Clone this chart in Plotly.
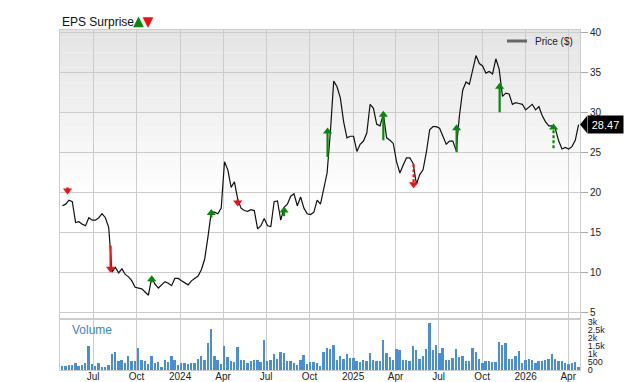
import plotly.graph_objects as go
import pandas as pd

# ---------------- data ----------------
week_start = "2023-04-27"
price = [
    18.3, 18.5, 19.0, 18.8, 16.2, 16.3, 16.0, 15.8, 16.8, 16.5,
    16.5, 16.8, 17.3, 16.8, 15.6, 10.0, 10.6, 9.9, 10.4, 9.7,
    9.4, 8.9, 8.1, 8.0, 7.9, 7.5, 7.1, 9.3, 8.5, 8.0,
    8.4, 8.8, 8.6, 8.3, 9.2, 9.2, 8.9, 8.6, 8.4, 8.9,
    9.2, 9.5, 10.3, 11.6, 14.4, 17.5, 17.5, 17.3, 18.0, 23.8,
    22.8, 20.6, 21.3, 19.1, 18.0, 17.7, 17.6, 17.8, 17.7, 15.4,
    15.8, 16.7, 15.8, 15.7, 18.8, 18.9, 16.5, 18.1, 18.5, 19.5,
    19.8, 18.3, 19.4, 18.0, 17.3, 17.2, 17.5, 19.0, 18.5, 20.4,
    22.4, 27.6, 33.9, 33.2, 31.8, 28.8, 26.8, 27.0, 27.0, 25.1,
    26.0, 26.4, 27.4, 31.0, 30.5, 28.5, 28.3, 29.8, 26.8, 26.5,
    26.1, 23.8, 22.4, 23.4, 24.3, 24.3, 23.6, 21.0, 22.2, 22.8,
    25.0, 27.8, 28.2, 28.2, 28.0, 27.0, 26.0, 26.4, 26.4, 25.2,
    29.6, 32.8, 33.8, 33.5, 35.5, 37.1, 36.1, 35.8, 34.9, 35.1,
    34.8, 36.7, 35.4, 32.0, 32.4, 32.3, 31.0, 31.2, 31.1, 31.0,
    30.3, 30.6, 31.0, 30.3, 30.7, 29.6, 28.8, 28.3, 28.3, 27.9,
    26.4, 25.4, 25.6, 25.4, 25.7, 26.5, 28.47,
]
volume = [
    250, 270, 340, 320, 440, 250, 290, 420, 1510, 360,
    250, 420, 210, 210, 320, 1000, 1130, 570, 630, 460,
    880, 530, 570, 1370, 630, 570, 380, 880, 420, 500,
    210, 630, 500, 880, 630, 320, 460, 460, 380, 420,
    460, 710, 880, 630, 1680, 2520, 880, 630, 380, 1510,
    800, 570, 500, 1450, 630, 630, 460, 590, 630, 630,
    500, 1850, 570, 630, 1000, 690, 1130, 1050, 530, 530,
    460, 290, 630, 950, 380, 480, 500, 420,
    270, 1090, 1390, 1320, 1530, 630, 860, 670, 970, 740,
    740, 590, 500, 630, 590, 1070, 650, 570, 590, 1890,
    1070, 800, 630, 1280, 1220, 630, 630, 590, 1470, 1220,
    710, 880, 1280, 2900, 1220, 1580, 1070, 1370, 630, 630,
    740, 1320, 800, 880, 590, 590, 1370, 1110, 670, 440,
    550, 550, 480, 480, 1740, 1580, 1700, 690, 670, 900,
    1160, 440, 650, 710, 630, 440, 530, 590, 650, 690,
    990, 690, 550, 550, 460, 380, 420, 480, 170,
]

eps_dates = ["2023-05-08", "2023-08-07", "2023-11-02", "2024-03-07", "2024-05-02",
             "2024-08-08", "2024-11-08", "2025-03-06", "2025-05-09", "2025-08-08",
             "2025-11-07", "2026-03-01"]
eps_from = [20.6, 13.3, 8.7, 16.8, 19.1, 17.0, 24.4, 26.5, 23.5, 25.0, 30.0, 25.5]
eps_to = [19.7, 9.9, 9.6, 17.9, 18.2, 18.2, 28.1, 30.2, 20.5, 28.5, 33.7, 28.6]
eps_beat = [False, False, True, True, False, True, True, True, False, True, True, True]
eps_dashed = [False, False, False, False, False, False, False, False, True, False, False, True]

tick_dates = ["2023-07-01", "2023-10-01", "2024-01-01", "2024-04-01", "2024-07-01",
              "2024-10-01", "2025-01-01", "2025-04-01", "2025-07-01", "2025-10-01",
              "2026-01-01", "2026-04-01"]
tick_text = ["Jul", "Oct", "2024", "Apr", "Jul", "Oct", "2025", "Apr", "Jul", "Oct",
             "2026", "Apr"]
price_ticks = [5, 10, 15, 20, 25, 30, 35, 40]
vol_ticks = [0, 500, 1000, 1500, 2000, 2500, 3000]
vol_tick_text = ["0", "500", "1k", "1.5k", "2k", "2.5k", "3k"]
last_label = "28.47"

# ---------------- figure ----------------
dates = pd.date_range(week_start, periods=len(price), freq="7D")
FONT = "Liberation Sans, Arial, sans-serif"
GREEN = "#0a870a"
RED = "#f01010"
GRID = "#cccccc"

W, H = 640, 382
ML, MR, MT, MB = 60, 60, 30, 12
PW = W - ML - MR
PH = H - MT - MB

def py(px):
    return (H - MB - px) / PH

def px_(x):
    return (x - ML) / PW

fig = go.Figure()

fig.add_trace(go.Scatter(x=dates, y=price, mode="lines",
                         line=dict(color="#111111", width=1.2),
                         xaxis="x", yaxis="y", showlegend=False, hoverinfo="skip"))

fig.add_trace(go.Bar(x=dates, y=volume, marker=dict(color="#4a8fd6", line=dict(width=0)),
                     width=4 * 86400000, xaxis="x2", yaxis="y2", showlegend=False,
                     hoverinfo="skip"))

head_off = 0.5  # price units between tip and triangle centre
for d, f, t, up, dashed in zip(eps_dates, eps_from, eps_to, eps_beat, eps_dashed):
    col = GREEN if up else RED
    centre = t - head_off if up else t + head_off
    fig.add_trace(go.Scatter(x=[d, d], y=[f, centre], mode="lines",
                             line=dict(color=col, width=2.2,
                                       dash="3px,2px" if dashed else "solid"),
                             xaxis="x", yaxis="y", showlegend=False, hoverinfo="skip"))
    fig.add_trace(go.Scatter(x=[d], y=[centre], mode="markers",
                             marker=dict(symbol="triangle-up" if up else "triangle-down",
                                         size=8, color=col, line=dict(width=0)),
                             xaxis="x", yaxis="y", showlegend=False, hoverinfo="skip"))

shapes = []
# gradient background on price panel
top_c, n = 0xE4, 22
y_hi, y_lo = 1.0, py(195)
for i in range(n):
    a = y_hi - (y_hi - y_lo) * i / n
    b = y_hi - (y_hi - y_lo) * (i + 1) / n
    c = int(top_c + (255 - top_c) * (i + 0.5) / n)
    shapes.append(dict(type="rect", xref="paper", yref="paper", x0=0, x1=1, y0=b, y1=a,
                       fillcolor=f"rgb({c},{c},{c})", line=dict(width=0), layer="below"))
# separator band between panels
shapes.append(dict(type="rect", xref="paper", yref="paper", x0=0, x1=1,
                   y0=py(320), y1=py(318), fillcolor="#e2e2e2", line=dict(width=0),
                   layer="below"))
# legend sample line
shapes.append(dict(type="line", xref="paper", yref="paper", x0=px_(507), x1=px_(527),
                   y0=py(41), y1=py(41), line=dict(color="#666666", width=3)))
# notch of last-price label
lp = price[-1]
shapes.append(dict(type="path", xref="paper", yref="y",
                   path=f"M 1,{lp} L {1 + 7 / PW},{lp + 1.05} L {1 + 7 / PW},{lp - 1.05} Z",
                   fillcolor="#000000", line=dict(width=0)))

annotations = [
    dict(text="EPS Surprise", xref="paper", yref="paper", x=0, y=py(22), xanchor="left",
         yanchor="middle", showarrow=False, font=dict(size=12, color="#111111", family=FONT)),
    dict(text="", xref="paper", yref="paper", x=px_(138.5), y=py(16.5), showarrow=True,
         ax=0, ay=11, arrowhead=2, arrowsize=0.9, arrowwidth=2.4, arrowcolor=GREEN),
    dict(text="", xref="paper", yref="paper", x=px_(148), y=py(28), showarrow=True,
         ax=0, ay=-11, arrowhead=2, arrowsize=0.9, arrowwidth=2.4, arrowcolor=RED),
    dict(text="Price ($)", xref="paper", yref="paper", x=px_(533), y=py(41), xanchor="left",
         yanchor="middle", showarrow=False, font=dict(size=10, color="#222222", family=FONT)),
    dict(text="Volume", xref="paper", yref="paper", x=px_(70), y=py(330), xanchor="left",
         yanchor="middle", showarrow=False, font=dict(size=12, color="#3a87c8", family=FONT)),
    dict(text=last_label, xref="paper", yref="y", x=1, y=lp, xanchor="left", yanchor="middle",
         xshift=7, showarrow=False, bgcolor="#000000", width=35, height=17, borderpad=0,
         font=dict(size=11, color="#ffffff", family=FONT)),
]

xcommon = dict(type="date", range=["2023-04-22", "2026-04-26"], tickvals=tick_dates,
               ticktext=tick_text, showgrid=True, gridcolor=GRID, gridwidth=1,
               showline=True, linecolor=GRID, mirror=True, zeroline=False, ticks="",
               automargin=False, tickfont=dict(size=10, color="#222222", family=FONT))

fig.update_layout(
    width=W, height=H,
    margin=dict(l=ML, r=MR, t=MT, b=MB, autoexpand=False),
    paper_bgcolor="#ffffff", plot_bgcolor="rgba(0,0,0,0)",
    font=dict(family=FONT, size=10, color="#222222"),
    showlegend=False,
    xaxis=dict(domain=[0, 1], anchor="y", showticklabels=False, **xcommon),
    xaxis2=dict(domain=[0, 1], anchor="y2", matches="x", showticklabels=True,
                ticklabelstandoff=-3, **xcommon),
    yaxis=dict(domain=[py(318), 1], anchor="x", side="right", range=[4.25, 40.3],
               tickvals=price_ticks, showgrid=True, gridcolor=GRID, zeroline=False,
               showline=True, linecolor=GRID, mirror=True, ticks="outside", ticklen=7,
               automargin=False,
               tickcolor="#aaaaaa", tickfont=dict(size=10, color="#222222", family=FONT)),
    yaxis2=dict(domain=[0, py(320)], anchor="x2", side="right", range=[0, 3110],
                tickvals=vol_ticks, ticktext=vol_tick_text, showgrid=False, zeroline=False,
                showline=True, linecolor=GRID, mirror=True, ticks="outside", ticklen=5,
                automargin=False,
                tickcolor="rgba(0,0,0,0)", tickfont=dict(size=9, color="#222222", family=FONT)),
    shapes=shapes,
    annotations=annotations,
    bargap=0,
)

fig.write_html("out.html")
